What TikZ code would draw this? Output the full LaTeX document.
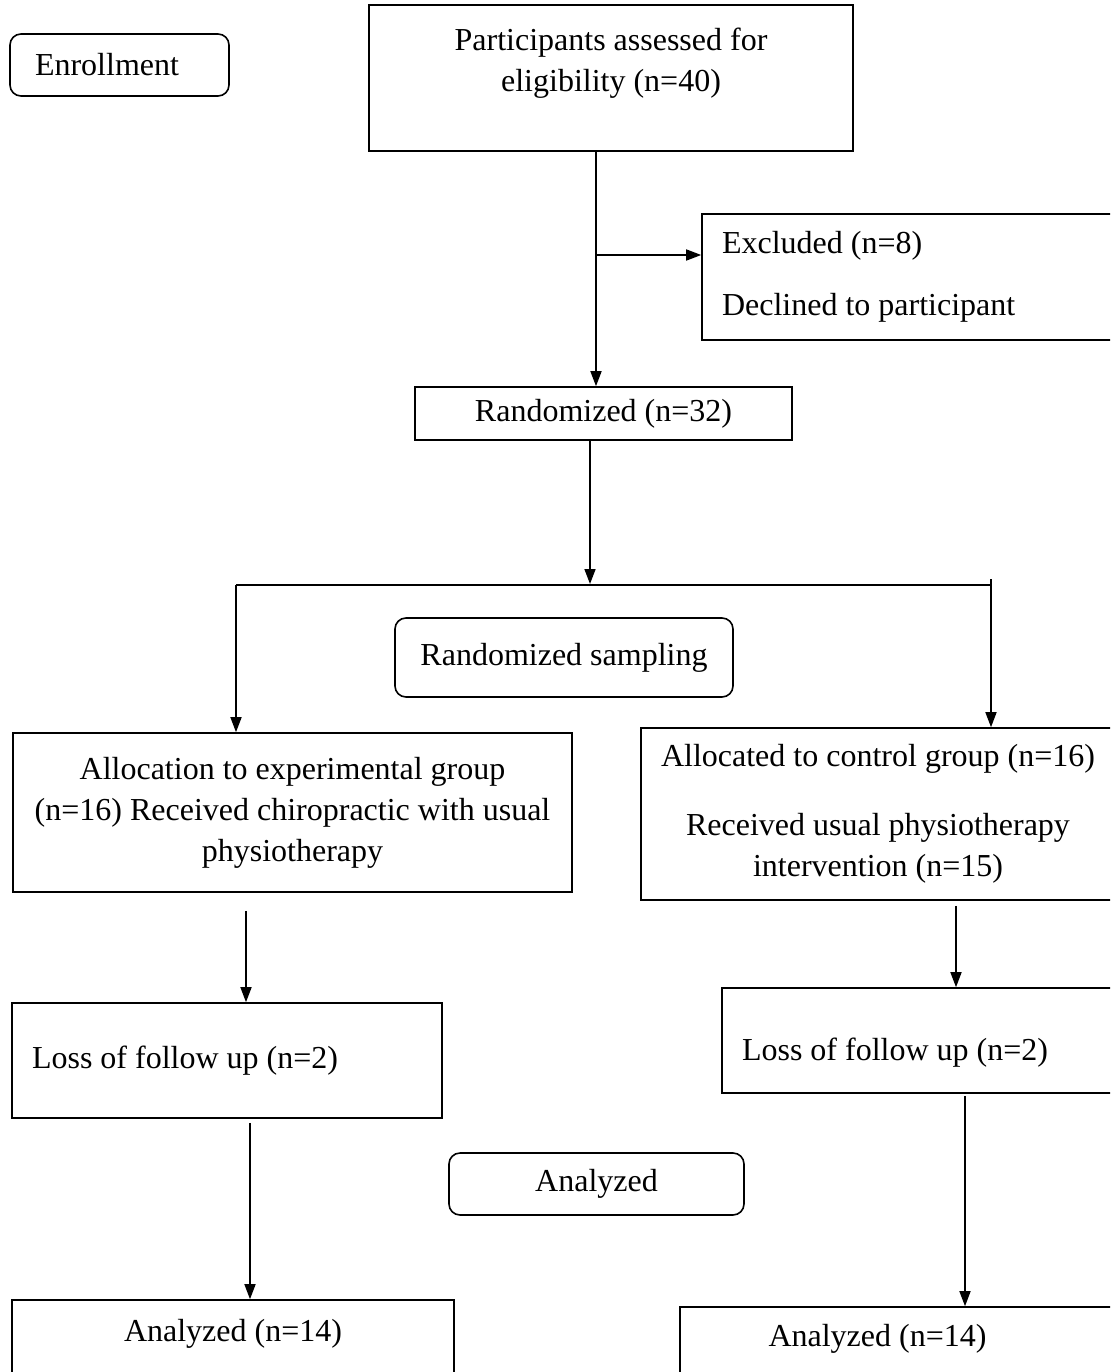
\documentclass[tikz,border=0pt]{standalone}
\usepackage{fontspec}
\setmainfont{Liberation Serif}
\usepackage{tikz}
\usetikzlibrary{arrows.meta,shapes}
\tikzstyle{box}=[draw,line width=1.6pt,rectangle,inner sep=0pt,align=center,font=\fontsize{32}{41}\selectfont]
\tikzstyle{left box}=[box,align=flush left,inner xsep=20pt]
\tikzstyle{round box}=[box,rounded corners=11pt]
\tikzstyle{edge}=[draw,line width=1.6pt,-]
\tikzstyle{arrow}=[edge,-{Triangle[length=15pt,width=11pt]}]

\begin{document}
\begin{tikzpicture}[x=1pt,y=-1pt]
    \useasboundingbox (0,0) rectangle (1110,1372);
    \clip (0,0) rectangle (1110,1372);
    % First we draw the boxes
    \node[round box,align=flush left,inner xsep=25pt,text width=169pt,minimum height=62pt] (enroll) at (119.5,65) {Enrollment};
    \node[box,minimum width=484pt,minimum height=146pt,text depth=37pt] (assess) at (611,78) {Participants assessed for\\eligibility (n=40)};
    \node[left box,text width=373pt,minimum height=126pt] (excl) at (908.5,277) {Excluded (n=8)\\[21pt]Declined to participant};
    \node[box,minimum width=377pt,minimum height=53pt] (rand) at (603.5,413.5) {Randomized (n=32)};
    \node[round box,minimum width=338pt,minimum height=79pt] (sampling) at (564,657.5) {Randomized sampling};
    \node[box,minimum width=559pt,minimum height=159pt] (exp) at (292.5,812.5) {Allocation to experimental group\\(n=16) Received chiropractic with usual\\physiotherapy};
    \node[box,minimum width=474pt,minimum height=172pt] (ctrl) at (878,814) {Allocated to control group (n=16)\\[28pt]Received usual physiotherapy\\intervention (n=15)};
    \node[left box,text width=390pt,minimum height=115pt] (lossA) at (227,1060.5) {Loss of follow up (n=2)};
    \node[left box,text width=353pt,minimum height=105pt,text height=47pt] (lossB) at (918.5,1040.5) {Loss of follow up (n=2)};
    \node[round box,minimum width=295pt,minimum height=62pt] (analyzed) at (596.5,1184) {Analyzed};
    \node[box,minimum width=442pt,minimum height=90pt,text depth=29pt] (anA) at (233,1345) {Analyzed (n=14)};
    \node[box,minimum width=435pt,minimum height=83pt,text depth=26pt] (anB) at (897.5,1348.5) {Analyzed (n=14)\hspace*{40pt}};

    % Points where the lines meet or turn
    \coordinate (excljoin) at (596,255);
    \coordinate (split) at (590,584);
    \coordinate (splitL) at (236,585);
    \coordinate (splitR) at (991,585);
    \coordinate (splitRtop) at (991,579);
    \coordinate (colA) at (246,0);
    \coordinate (colB) at (956,0);
    \coordinate (colC) at (250,0);
    \coordinate (colD) at (965,0);

    % Connect the boxes
    \path[arrow] (assess.south -| excljoin) -- (rand.north -| excljoin);
    \path[arrow] (excljoin) -- (excl.west |- excljoin);
    \path[arrow] (rand.south -| split) -- (split);
    \path[edge] (splitL) -- (splitR);
    \path[arrow] (splitL) -- (exp.north -| splitL);
    \path[arrow] (splitRtop) -- (ctrl.north -| splitRtop);
    \path[arrow,shorten <=18pt] (exp.south -| colA) -- (lossA.north -| colA);
    \path[arrow,shorten <=5pt] (ctrl.south -| colB) -- (lossB.north -| colB);
    \path[arrow,shorten <=4pt] (lossA.south -| colC) -- (anA.north -| colC);
    \path[arrow,shorten <=2pt] (lossB.south -| colD) -- (anB.north -| colD);
\end{tikzpicture}
\end{document}
